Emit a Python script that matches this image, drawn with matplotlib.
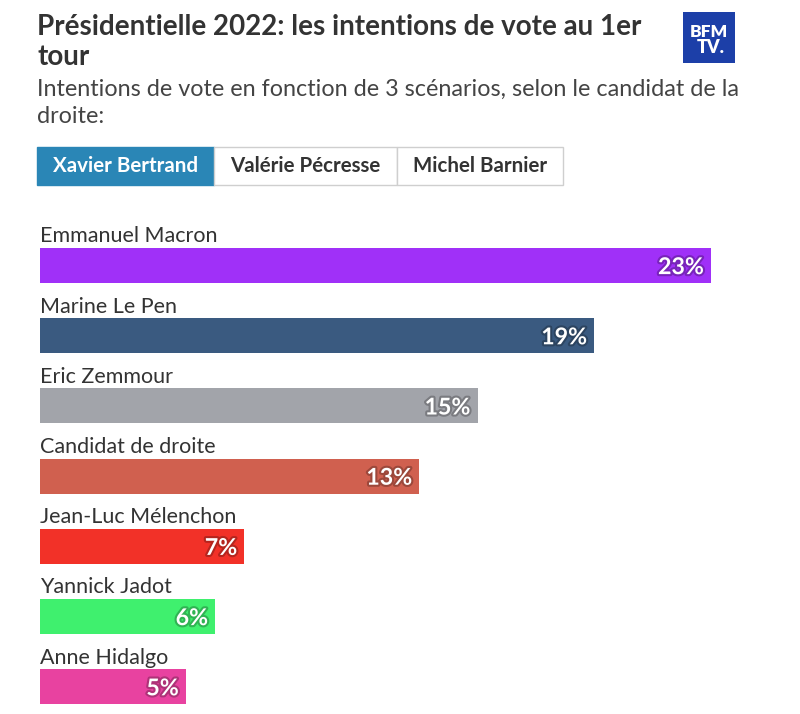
import matplotlib
matplotlib.use("Agg")
import matplotlib.pyplot as plt
import matplotlib.patheffects as pe
from matplotlib.patches import Rectangle
import matplotlib.colors as mcolors

# données (scénario Xavier Bertrand)
candidates = ["Emmanuel Macron", "Marine Le Pen", "Eric Zemmour", "Candidat de droite",
              "Jean-Luc Mélenchon", "Yannick Jadot", "Anne Hidalgo"]
votes = [23, 19, 15, 13, 7, 6, 5]
colors = ["#a030f8", "#3a5a80", "#a2a4aa", "#d0604f", "#f23128", "#3ff06e", "#e842a0"]
scenarios = ["Xavier Bertrand", "Valérie Pécresse", "Michel Barnier"]

title_1 = "Présidentielle 2022: les intentions de vote au 1er"
title_2 = "tour"
sub_1 = "Intentions de vote en fonction de 3 scénarios, selon le candidat de la"
sub_2 = "droite:"

plt.rcParams['font.family'] = ['Lato', 'DejaVu Sans']

W, H = 800, 714
fig = plt.figure(figsize=(8, 7.14), dpi=100)
renderer = fig.canvas.get_renderer()


def fit(t, width):
    # ajuste la taille du texte à une largeur en pixels
    w = t.get_window_extent(renderer).width
    t.set_fontsize(t.get_fontsize() * width / w)
    return t.get_fontsize()


# calque d'en-tête en coordonnées pixels
hd = fig.add_axes([0, 0, 1, 1])
hd.set_xlim(0, W)
hd.set_ylim(H, 0)
hd.axis('off')

t = hd.text(37, 35, title_1, fontsize=18, fontweight='bold', color='#333333', va='baseline')
fs = fit(t, 603)
hd.text(37, 65, title_2, fontsize=fs, fontweight='bold', color='#333333', va='baseline')

t = hd.text(37, 96, sub_1, fontsize=15, color='#444444', va='baseline')
fs = fit(t, 703)
hd.text(37, 123, sub_2, fontsize=fs, color='#444444', va='baseline')

# logo BFM TV
hd.add_patch(Rectangle((683, 12), 52, 51, facecolor='#1c3fa8', edgecolor='none'))
t = hd.text(709, 37, "BFM", fontsize=12, fontweight='heavy', color='white', ha='center', va='baseline')
fit(t, 38)
t = hd.text(711, 53, "TV.", fontsize=12, fontweight='heavy', color='white', ha='center', va='baseline')
fit(t, 28)

# boutons de scénario
edges = [37, 214, 397, 563]
btn_fs = None
for i, name in enumerate(scenarios):
    x0, x1 = edges[i], edges[i + 1]
    active = i == 0
    hd.add_patch(Rectangle((x0, 147), x1 - x0, 38,
                           facecolor='#2a86b6' if active else 'white',
                           edgecolor='#2a86b6' if active else '#cfcfcf', linewidth=1))
    t = hd.text((x0 + x1) / 2, 166, name, fontsize=13, fontweight='bold',
                color='white' if active else '#333333', ha='center', va='center')
    if btn_fs is None:
        btn_fs = fit(t, 145)
    else:
        t.set_fontsize(btn_fs)

# barres
px_per_pct = 29.17
ax = fig.add_axes([40 / W, 0, 760 / W, 499 / H])
ax.set_xlim(0, 760 / px_per_pct)
ax.set_ylim((714 - 265.5) / 70.2, (215 - 265.5) / 70.2)
ax.axis('off')

pos = range(len(candidates))
ax.barh(pos, votes, height=35 / 70.2, color=colors)

lab_fs = None
pct_fs = None
for i, (name, v, c) in enumerate(zip(candidates, votes, colors)):
    t = ax.text(0, i - 0.33, name, fontsize=15, color='#333333', va='baseline', ha='left')
    if lab_fs is None:
        lab_fs = fit(t, 178)
    else:
        t.set_fontsize(lab_fs)
    dark = [x * 0.75 for x in mcolors.to_rgb(c)]
    t = ax.text(v - 7 / px_per_pct, i + 0.03, f"{v}%", fontsize=15, fontweight='bold',
                color='white', ha='right', va='center',
                path_effects=[pe.withStroke(linewidth=3, foreground=dark)])
    if pct_fs is None:
        pct_fs = fit(t, 46)
    else:
        t.set_fontsize(pct_fs)

fig.savefig("out.png", dpi=100)
